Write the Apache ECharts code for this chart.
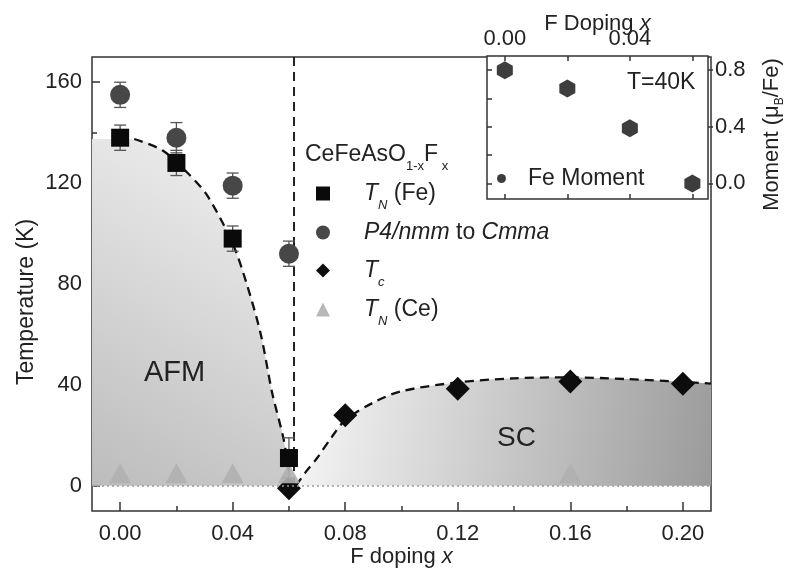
<!DOCTYPE html>
<html><head><meta charset="utf-8">
<script src="https://cdn.jsdelivr.net/npm/echarts@6/dist/echarts.min.js"></script>
<style>html,body{margin:0;padding:0;background:#fff}#c{width:787px;height:575px}</style>
</head><body><div id="c"></div>
<script>
const FONT = '"Liberation Sans", Arial, Helvetica, sans-serif';
const INK = '#222';

// ---- main panel data ----
const dopingFe = [0, 0.02, 0.04, 0.06];
const tnFe = [138, 128, 98, 11];
const tnFeErr = [5, 5, 5, 8];

const dopingStruct = [0, 0.02, 0.04, 0.06];
const tStruct = [155, 138, 119, 92];
const tStructErr = [5, 6, 5, 5];

const dopingTc = [0.06, 0.08, 0.12, 0.16, 0.20];
const tc = [-1, 28, 38.5, 41.3, 40.5];

const dopingCe = [0, 0.02, 0.04, 0.06, 0.16];
const tnCe = [5, 5, 5, 5, 5];

// guide curves (dashed)
const afmCurveX = [0.005, 0.015, 0.024, 0.031, 0.040, 0.045, 0.050, 0.054, 0.058, 0.0607, 0.0615];
const afmCurveT = [137.5, 133, 124, 115, 96, 80, 60, 37, 19, 2, 0];
const afmFillX = [-0.01, 0.005, 0.015, 0.024, 0.031, 0.040, 0.045, 0.050, 0.054, 0.058, 0.0607, 0.0615];
const afmFillT = [137.5, 137.5, 133, 124, 115, 96, 80, 60, 37, 19, 2, 0];

const scCurveX = [0.0625, 0.066, 0.070, 0.075, 0.080, 0.090, 0.100, 0.120, 0.140, 0.160, 0.180, 0.200, 0.210];
const scCurveT = [0, 5.5, 11, 19, 26, 33, 37.5, 41, 42.6, 43, 42.3, 41.2, 40.5];

const boundaryX = [0.0618, 0.0618];
const boundaryT = [170, 0];

// axis ticks
const xMajor = [0, 0.04, 0.08, 0.12, 0.16, 0.20];
const xMinor = [0.02, 0.06, 0.10, 0.14, 0.18];
const yMajor = [0, 40, 80, 120, 160];
const yMinor = [20, 60, 100, 140];

// ---- inset data ----
const insetDoping = [0, 0.02, 0.04, 0.06];
const insetMoment = [0.8, 0.67, 0.39, 0.0];
const insetXTicks = [0, 0.02, 0.04, 0.06];
const insetXLabels = [0, 0.04];
const insetYTicks = [0, 0.2, 0.4, 0.6, 0.8];
const insetYLabels = [0, 0.4, 0.8];

const zip = (a, b) => a.map((v, i) => [v, b[i]]);
const zip3 = (a, b, c) => a.map((v, i) => [v, b[i], c[i]]);

const rich = {
  sp: {width: 29, fontSize: 23, lineHeight: 36},
  n: {fontFamily: FONT, fontSize: 23, fontWeight: 'normal', color: INK, lineHeight: 36},
  it: {fontFamily: FONT, fontSize: 23, fontWeight: 'normal', fontStyle: 'italic', color: INK, lineHeight: 36},
  sub: {fontFamily: FONT, fontSize: 13, fontWeight: 'normal', fontStyle: 'italic', color: INK, lineHeight: 13, verticalAlign: 'bottom'},
  subn: {fontFamily: FONT, fontSize: 13, fontWeight: 'normal', color: INK, lineHeight: 13, verticalAlign: 'bottom'}
};
const legendLabels = {
  'TN(Fe)': '{sp| }{it|T}{sub|N}{n| (Fe)}',
  'P4/nmm to Cmma': '{sp| }{it|P4/nmm}{n| to }{it|Cmma}',
  'Tc': '{sp| }{it|T}{sub|c}',
  'TN(Ce)': '{sp| }{it|T}{sub|N}{n| (Ce)}'
};
const legendOrder = ['TN(Fe)', 'P4/nmm to Cmma', 'Tc', 'TN(Ce)'];
const legendTops = [182, 221, 259, 298];

function errRender(params, api) {
  const x = api.value(0), y = api.value(1), e = api.value(2);
  const t = api.coord([x, y + e]), b = api.coord([x, y - e]);
  const hw = 6;
  const st = {stroke: '#555', lineWidth: 1.3};
  return {type: 'group', children: [
    {type: 'line', shape: {x1: t[0], y1: t[1], x2: b[0], y2: b[1]}, style: st},
    {type: 'line', shape: {x1: t[0] - hw, y1: t[1], x2: t[0] + hw, y2: t[1]}, style: st},
    {type: 'line', shape: {x1: b[0] - hw, y1: b[1], x2: b[0] + hw, y2: b[1]}, style: st}
  ]};
}

const tickLine = {color: '#333', width: 1.5};
const noLine = {show: false, onZero: false};
const hexagon = 'path://M50,0 L93.3,25 L93.3,75 L50,100 L6.7,75 L6.7,25 Z';

const mainLegends = legendOrder.map((name, i) => ({
  data: [name], orient: 'vertical', left: 316, top: legendTops[i], padding: 0,
  itemWidth: 14, itemHeight: 14, selectedMode: false,
  formatter: n => legendLabels[n], textStyle: {rich: rich}
}));

const chart = echarts.init(document.getElementById('c'), null, {renderer: 'canvas'});
chart.setOption({
  backgroundColor: '#fff',
  animation: false,
  textStyle: {fontFamily: FONT},
  title: [
    {text: '{n|CeFeAsO}{subn|1-x}{n|F}{subn| x}', left: 305, top: 137, padding: 0,
     textStyle: {fontWeight: 'normal', rich: rich}},
    {text: 'AFM', left: 144, top: 358, padding: 0, textStyle: {fontFamily: FONT, fontSize: 29, fontWeight: 'normal', color: INK}},
    {text: 'SC', left: 497, top: 424, padding: 0, textStyle: {fontFamily: FONT, fontSize: 28, fontWeight: 'normal', color: INK}},
    {text: 'T=40K', left: 627, top: 71, padding: 0, textStyle: {fontFamily: FONT, fontSize: 23, fontWeight: 'normal', color: INK}}
  ],
  legend: mainLegends.concat([
    {data: [{name: 'Fe Moment', icon: 'circle'}], orient: 'vertical', left: 497, top: 167, padding: 0,
     itemWidth: 9, itemHeight: 9, selectedMode: false,
     formatter: '{sp| }{n|Fe Moment}',
     textStyle: {rich: {sp: {width: 17, lineHeight: 24},
       n: {fontFamily: FONT, fontSize: 23, color: INK, lineHeight: 24}}}}
  ]),
  grid: [
    {left: 92, top: 57, width: 619, height: 454, show: true, borderColor: '#333', borderWidth: 1.5, backgroundColor: 'transparent'},
    {left: 487, top: 56, width: 224, height: 143, show: true, borderColor: '#333', borderWidth: 1.5, backgroundColor: '#fff'}
  ],
  xAxis: [
    {gridIndex: 0, type: 'value', min: -0.01, max: 0.21, position: 'bottom',
     axisLine: noLine, splitLine: {show: false},
     axisTick: {inside: true, length: 9, lineStyle: tickLine, customValues: xMajor},
     axisLabel: {customValues: xMajor, formatter: v => v.toFixed(2), fontSize: 22, color: INK, margin: 12, fontFamily: FONT},
     name: '{n|F doping }{it|x}', nameLocation: 'middle', nameGap: 35, nameMoveOverlap: false,
     nameTextStyle: {rich: {n: {fontFamily: FONT, fontSize: 22, color: INK}, it: {fontFamily: FONT, fontSize: 22, fontStyle: 'italic', color: INK}}}},
    {gridIndex: 0, type: 'value', min: -0.01, max: 0.21, position: 'bottom',
     axisLine: noLine, splitLine: {show: false}, axisLabel: {show: false},
     axisTick: {inside: true, length: 5, lineStyle: tickLine, customValues: xMinor}},
    {gridIndex: 1, type: 'value', min: -0.0057, max: 0.065, position: 'top',
     axisLine: noLine, splitLine: {show: false},
     axisTick: {inside: true, length: 5, lineStyle: tickLine, customValues: insetXTicks},
     axisLabel: {customValues: insetXLabels, formatter: v => v.toFixed(2), fontSize: 22, color: INK, margin: 6, fontFamily: FONT},
     name: '{n|F Doping }{it|x}', nameLocation: 'middle', nameGap: 21, nameMoveOverlap: false,
     nameTextStyle: {rich: {n: {fontFamily: FONT, fontSize: 22, color: INK}, it: {fontFamily: FONT, fontSize: 22, fontStyle: 'italic', color: INK}}}},
    {gridIndex: 1, type: 'value', min: -0.0057, max: 0.065, position: 'bottom',
     axisLine: noLine, splitLine: {show: false}, axisLabel: {show: false},
     axisTick: {inside: true, length: 5, lineStyle: tickLine, customValues: insetXTicks}}
  ],
  yAxis: [
    {gridIndex: 0, type: 'value', min: -10, max: 170, position: 'left',
     axisLine: noLine, splitLine: {show: false},
     axisTick: {inside: true, length: 8, lineStyle: tickLine, customValues: yMajor},
     axisLabel: {customValues: yMajor, fontSize: 22, color: INK, margin: 10, fontFamily: FONT},
     name: 'Temperature (K)', nameLocation: 'middle', nameGap: 54, nameMoveOverlap: false,
     nameTextStyle: {fontFamily: FONT, fontSize: 23, color: INK, padding: [0, 36, 0, 0]}},
    {gridIndex: 0, type: 'value', min: -10, max: 170, position: 'left',
     axisLine: noLine, splitLine: {show: false}, axisLabel: {show: false},
     axisTick: {inside: true, length: 5, lineStyle: tickLine, customValues: yMinor}},
    {gridIndex: 1, type: 'value', min: -0.11, max: 0.9, position: 'right',
     axisLine: noLine, splitLine: {show: false},
     axisTick: {inside: false, length: 5, lineStyle: tickLine, customValues: insetYLabels},
     axisLabel: {customValues: insetYLabels, formatter: v => v.toFixed(1), fontSize: 22, color: INK, margin: 7, fontFamily: FONT},
     name: '{n|Moment (μ}{sub|B}{n|/Fe)}', nameLocation: 'middle', nameGap: 50, nameRotate: 90, nameMoveOverlap: false,
     nameTextStyle: {padding: [0, 14, 0, 0], rich: {n: {fontFamily: FONT, fontSize: 22, color: INK, lineHeight: 28},
       sub: {fontFamily: FONT, fontSize: 12, color: INK, lineHeight: 12, verticalAlign: 'bottom'}}}},
    {gridIndex: 1, type: 'value', min: -0.11, max: 0.9, position: 'left',
     axisLine: noLine, splitLine: {show: false}, axisLabel: {show: false},
     axisTick: {inside: true, length: 5, lineStyle: tickLine, customValues: insetYTicks}}
  ],
  series: [
    {name: 'afmFill', type: 'line', xAxisIndex: 0, yAxisIndex: 0, data: zip(afmFillX, afmFillT),
     smooth: 0.3, showSymbol: false, symbol: 'none', lineStyle: {width: 0}, z: 1, silent: true,
     areaStyle: {origin: 0, opacity: 1, color: new echarts.graphic.LinearGradient(0, 1, 1, 0, [
       {offset: 0, color: '#bcbcbc'}, {offset: 1, color: '#f3f3f3'}])}},
    {name: 'scFill', type: 'line', xAxisIndex: 0, yAxisIndex: 0, data: zip(scCurveX, scCurveT),
     smooth: 0.3, showSymbol: false, symbol: 'none', lineStyle: {width: 0}, z: 1, silent: true,
     areaStyle: {origin: 0, opacity: 1, color: new echarts.graphic.LinearGradient(0, 0, 1, 0.6, [
       {offset: 0, color: '#f7f7f7'}, {offset: 1, color: '#9c9c9c'}])}},
    {name: 'afmCurve', type: 'line', xAxisIndex: 0, yAxisIndex: 0, data: zip(afmCurveX, afmCurveT),
     smooth: 0.3, symbol: 'none', z: 3, silent: true,
     lineStyle: {color: '#111', width: 2.3, type: [9, 6]}},
    {name: 'scCurve', type: 'line', xAxisIndex: 0, yAxisIndex: 0, data: zip(scCurveX, scCurveT),
     smooth: 0.3, symbol: 'none', z: 3, silent: true,
     lineStyle: {color: '#111', width: 2.3, type: [9, 6]},
     markLine: {silent: true, symbol: ['none', 'none'], label: {show: false},
       lineStyle: {color: '#9a9a9a', type: [2, 3], width: 1.5}, data: [{yAxis: 0}]}},
    {name: 'boundary', type: 'line', xAxisIndex: 0, yAxisIndex: 0, data: zip(boundaryX, boundaryT),
     symbol: 'none', z: 3, silent: true,
     lineStyle: {color: '#222', width: 2, type: [9, 6]}},
    {name: 'Tc', type: 'scatter', xAxisIndex: 0, yAxisIndex: 0, data: zip(dopingTc, tc),
     symbol: 'diamond', symbolSize: [24, 24], z: 4, itemStyle: {color: '#0d0d0d', opacity: 1}},
    {name: 'TN(Ce)', type: 'scatter', xAxisIndex: 0, yAxisIndex: 0, data: zip(dopingCe, tnCe),
     symbol: 'triangle', symbolSize: [22, 20], z: 5, itemStyle: {color: '#b0b0b0', opacity: 0.9}},
    {name: 'errors', type: 'custom', xAxisIndex: 0, yAxisIndex: 0, renderItem: errRender, z: 5,
     encode: {x: 0, y: 1}, silent: true,
     data: zip3(dopingFe, tnFe, tnFeErr).concat(zip3(dopingStruct, tStruct, tStructErr))},
    {name: 'P4/nmm to Cmma', type: 'scatter', xAxisIndex: 0, yAxisIndex: 0, data: zip(dopingStruct, tStruct),
     symbol: 'circle', symbolSize: 20, z: 6, itemStyle: {color: '#474747', opacity: 1}},
    {name: 'TN(Fe)', type: 'scatter', xAxisIndex: 0, yAxisIndex: 0, data: zip(dopingFe, tnFe),
     symbol: 'rect', symbolSize: 18, z: 6, itemStyle: {color: '#0a0a0a', opacity: 1}},
    {name: 'Fe Moment', type: 'scatter', xAxisIndex: 2, yAxisIndex: 2, data: zip(insetDoping, insetMoment),
     symbol: hexagon, symbolSize: [16, 18], z: 6, itemStyle: {color: '#3d3d3d', opacity: 1}}
  ]
});
</script></body></html>
